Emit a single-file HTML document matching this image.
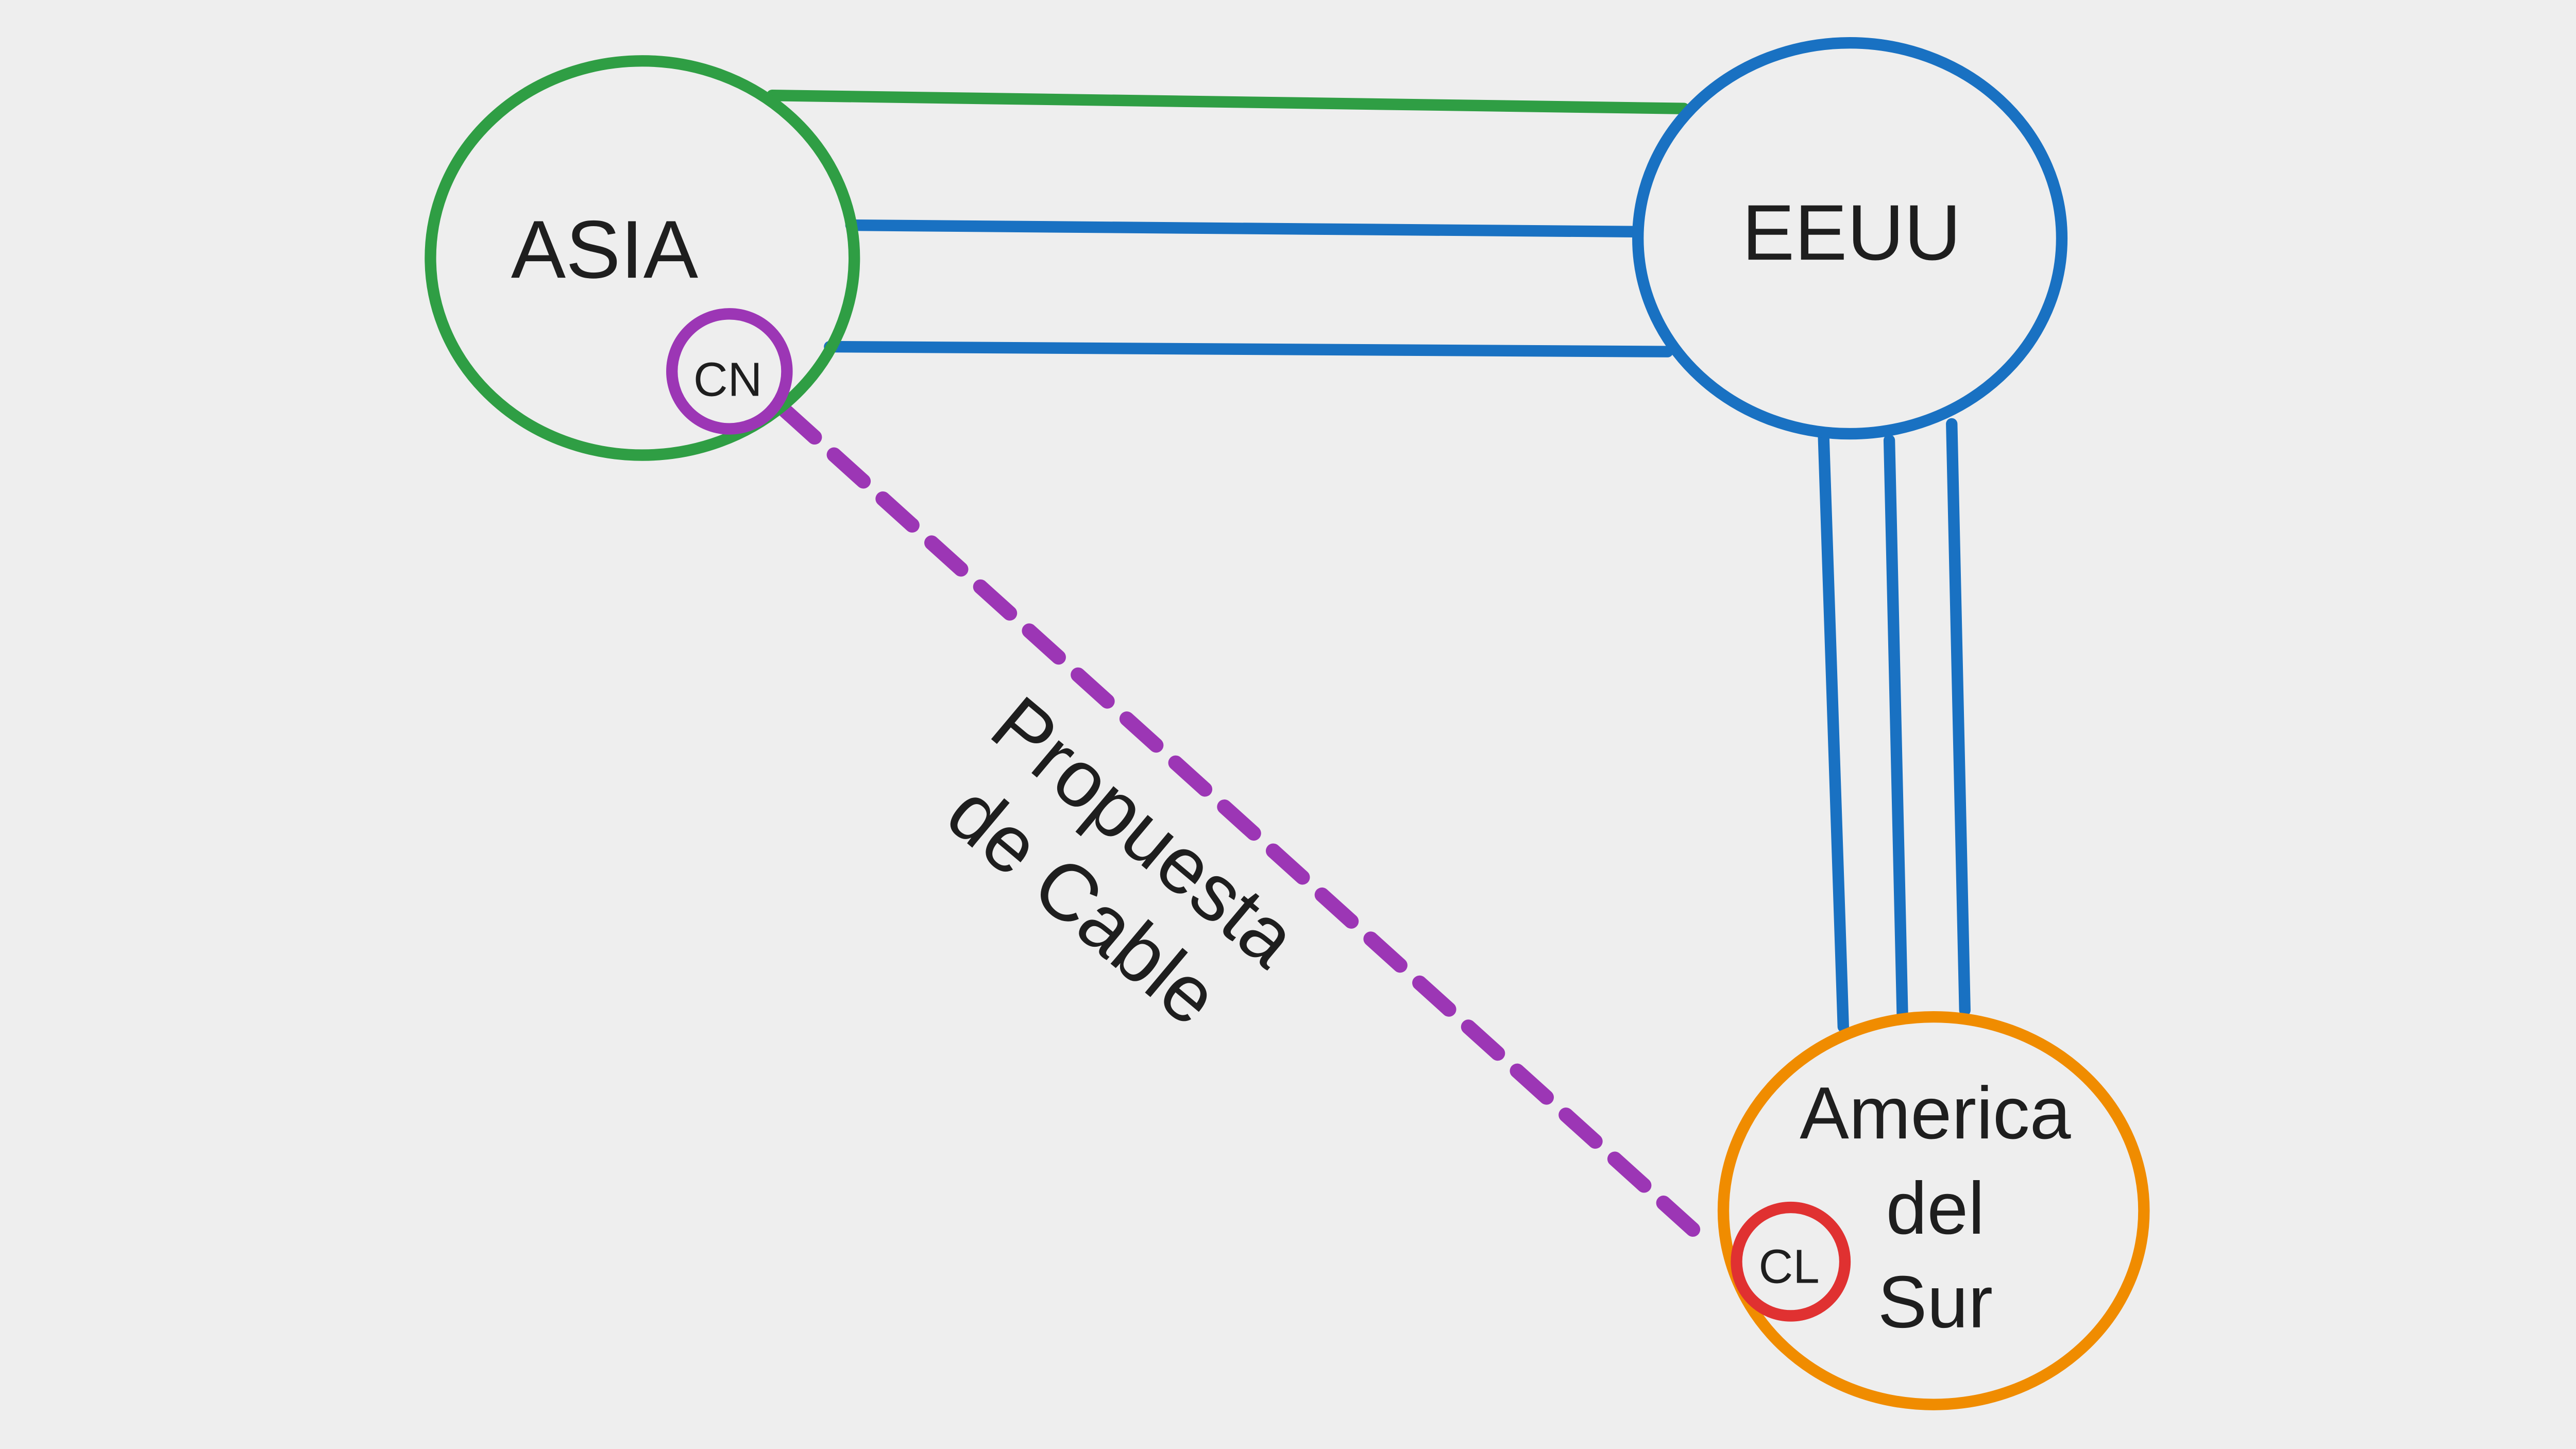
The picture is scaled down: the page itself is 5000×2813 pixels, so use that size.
<!DOCTYPE html>
<html>
<head>
<meta charset="utf-8">
<style>
html,body{margin:0;padding:0;background:#eeeeee;}
svg{display:block;}
text{font-family:"Liberation Sans",sans-serif;fill:#1e1e1e;}
</style>
</head>
<body>
<svg width="5000" height="2813" viewBox="0 0 1568 882" xmlns="http://www.w3.org/2000/svg">
<rect width="1568" height="882" fill="#eeeeee"/>
<!-- connectors -->
<line x1="470" y1="58" x2="1025" y2="66" stroke="#2f9e44" stroke-width="7" stroke-linecap="round"/>
<line x1="518" y1="137" x2="997" y2="141" stroke="#1971c2" stroke-width="7" stroke-linecap="round"/>
<line x1="505" y1="211" x2="1015" y2="214" stroke="#1971c2" stroke-width="7" stroke-linecap="round"/>
<line x1="1110" y1="265" x2="1122" y2="625" stroke="#1971c2" stroke-width="7" stroke-linecap="round"/>
<line x1="1150" y1="268" x2="1158" y2="618" stroke="#1971c2" stroke-width="7" stroke-linecap="round"/>
<line x1="1188" y1="258" x2="1196" y2="615" stroke="#1971c2" stroke-width="7" stroke-linecap="round"/>
<line x1="478" y1="250" x2="1040" y2="757" stroke="#9c36b5" stroke-width="9" stroke-dasharray="24 16" stroke-linecap="round"/>
<!-- nodes -->
<ellipse cx="391" cy="157" rx="129" ry="120" fill="none" stroke="#2f9e44" stroke-width="7"/>
<ellipse cx="1126" cy="145" rx="129" ry="119" fill="none" stroke="#1971c2" stroke-width="7"/>
<ellipse cx="1177" cy="737" rx="128" ry="118" fill="none" stroke="#f08c00" stroke-width="7"/>
<circle cx="444" cy="226" r="35" fill="none" stroke="#9c36b5" stroke-width="7"/>
<circle cx="1090" cy="768" r="33" fill="none" stroke="#e03131" stroke-width="7"/>
<!-- labels -->
<text x="368" y="169" font-size="50" text-anchor="middle">ASIA</text>
<text x="1127" y="158" font-size="48" text-anchor="middle">EEUU</text>
<text x="443" y="241" font-size="29" text-anchor="middle">CN</text>
<text x="1089" y="781" font-size="29" text-anchor="middle">CL</text>
<text x="1178" y="693" font-size="45" text-anchor="middle">America</text>
<text x="1178" y="751" font-size="45" text-anchor="middle">del</text>
<text x="1178" y="808" font-size="45" text-anchor="middle">Sur</text>
<g transform="translate(680,526) rotate(40)">
<text x="0" y="-9" font-size="49" text-anchor="middle">Propuesta</text>
<text x="0" y="49" font-size="49" text-anchor="middle">de Cable</text>
</g>
</svg>
</body>
</html>
